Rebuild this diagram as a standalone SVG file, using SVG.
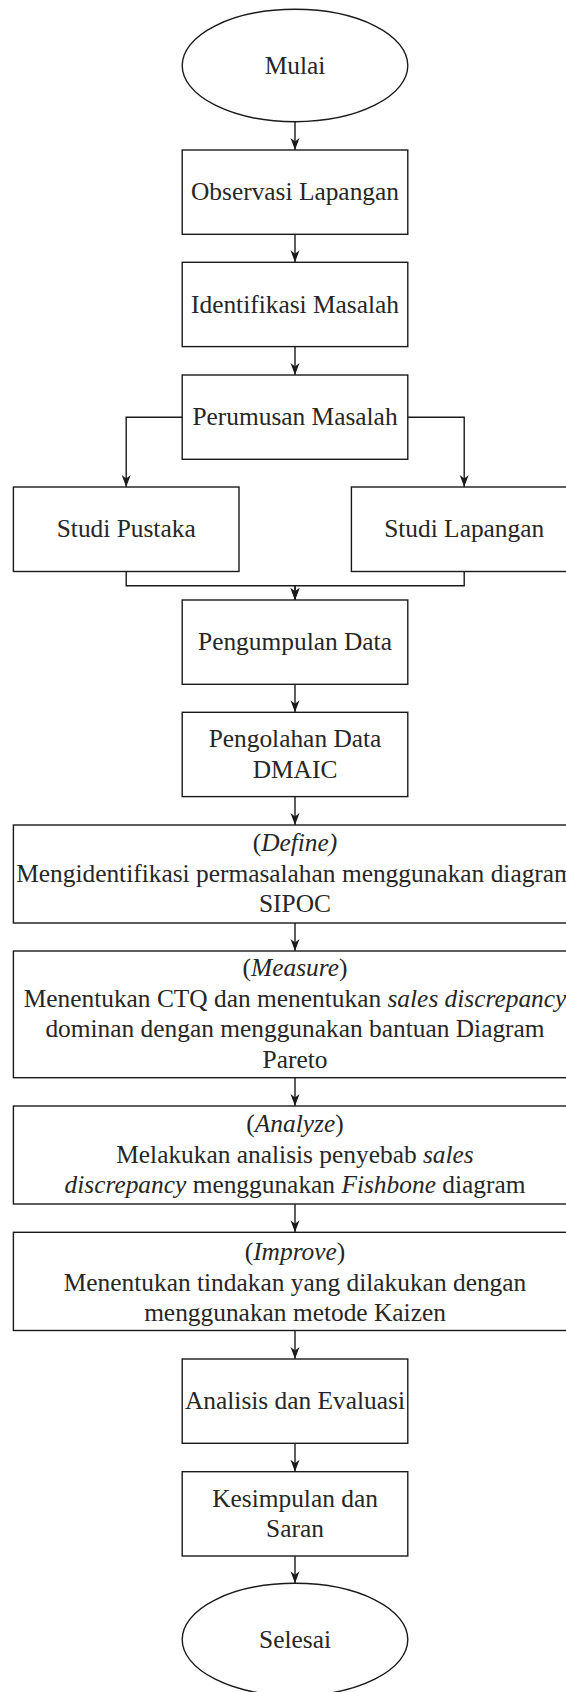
<svg xmlns="http://www.w3.org/2000/svg" width="566" height="1692" viewBox="0 0 566 1692">
  <style>
    .shape { fill: #ffffff; stroke: #1a1a1a; stroke-width: 1.4; }
    .edge { fill: none; stroke: #1a1a1a; stroke-width: 1.4; }
    .label { font-family: "Liberation Serif", "Times New Roman", serif; font-size: 25.4px; fill: #262626; text-anchor: middle; }
    .it { font-style: italic; }
  </style>
  <defs>
    <marker id="arrow" viewBox="0 0 12 10" refX="12" refY="5" markerWidth="12" markerHeight="10" markerUnits="userSpaceOnUse" orient="auto">
      <path d="M0,0.5 L12,5 L0,9.5 L3.5,5 Z" fill="#1a1a1a"/>
    </marker>
  </defs>
  <rect width="566" height="1692" fill="#ffffff"/>

  <!-- connectors -->
  <g id="connectors" class="edge" marker-end="url(#arrow)">
    <path d="M295,121.7 V150"/>
    <path d="M295,234.3 V262.3"/>
    <path d="M295,346.6 V375"/>
    <path d="M182.2,417.2 H126.2 V487"/>
    <path d="M407.8,417.2 H464.2 V487"/>
    <path d="M126.2,571.5 V585.7 H295 V600"/>
    <path d="M464.2,571.5 V585.7 H295 V600"/>
    <path d="M295,684.3 V712.3"/>
    <path d="M295,796.6 V825"/>
    <path d="M295,923 V951"/>
    <path d="M295,1077.7 V1106"/>
    <path d="M295,1204 V1232.3"/>
    <path d="M295,1330.5 V1359"/>
    <path d="M295,1443.3 V1471.7"/>
    <path d="M295,1556 V1583.3"/>
  </g>

  <!-- nodes -->
  <g id="mulai">
    <ellipse class="shape" cx="295" cy="65.5" rx="112.8" ry="56.2"/>
    <text class="label" x="295" y="73.5">Mulai</text>
  </g>
  <g id="observasi">
    <rect class="shape" x="182.2" y="150" width="225.6" height="84.3"/>
    <text class="label" x="295" y="200.2">Observasi Lapangan</text>
  </g>
  <g id="identifikasi">
    <rect class="shape" x="182.2" y="262.3" width="225.6" height="84.3"/>
    <text class="label" x="295" y="312.5">Identifikasi Masalah</text>
  </g>
  <g id="perumusan">
    <rect class="shape" x="182.2" y="375" width="225.6" height="84.3"/>
    <text class="label" x="295" y="425.2">Perumusan Masalah</text>
  </g>
  <g id="studi-pustaka">
    <rect class="shape" x="13.4" y="487" width="225.6" height="84.5"/>
    <text class="label" x="126.2" y="537.3">Studi Pustaka</text>
  </g>
  <g id="studi-lapangan">
    <rect class="shape" x="351.4" y="487" width="225.6" height="84.5"/>
    <text class="label" x="464.2" y="537.3">Studi Lapangan</text>
  </g>
  <g id="pengumpulan">
    <rect class="shape" x="182.2" y="600" width="225.6" height="84.3"/>
    <text class="label" x="295" y="650.2">Pengumpulan Data</text>
  </g>
  <g id="pengolahan">
    <rect class="shape" x="182.2" y="712.3" width="225.6" height="84.3"/>
    <text class="label" x="295" y="747.2">Pengolahan Data</text>
    <text class="label" x="295" y="777.7">DMAIC</text>
  </g>
  <g id="define">
    <rect class="shape" x="13.4" y="825" width="563.2" height="98"/>
    <text class="label" x="295" y="851.3">(<tspan class="it">Define)</tspan></text>
    <text class="label" x="295" y="881.8">Mengidentifikasi permasalahan menggunakan diagram</text>
    <text class="label" x="295" y="912.3">SIPOC</text>
  </g>
  <g id="measure">
    <rect class="shape" x="13.4" y="951" width="563.2" height="126.7"/>
    <text class="label" x="295" y="976.4">(<tspan class="it">Measure</tspan>)</text>
    <text class="label" x="295" y="1006.9">Menentukan CTQ dan menentukan <tspan class="it">sales discrepancy</tspan></text>
    <text class="label" x="295" y="1037.4">dominan dengan menggunakan bantuan Diagram</text>
    <text class="label" x="295" y="1067.9">Pareto</text>
  </g>
  <g id="analyze">
    <rect class="shape" x="13.4" y="1106" width="563.2" height="98"/>
    <text class="label" x="295" y="1132.3">(<tspan class="it">Analyze</tspan>)</text>
    <text class="label" x="295" y="1162.8">Melakukan analisis penyebab <tspan class="it">sales</tspan></text>
    <text class="label" x="295" y="1193.3"><tspan class="it">discrepancy</tspan> menggunakan <tspan class="it">Fishbone</tspan> diagram</text>
  </g>
  <g id="improve">
    <rect class="shape" x="13.4" y="1232.3" width="563.2" height="98.2"/>
    <text class="label" x="295" y="1260.2">(<tspan class="it">Improve</tspan>)</text>
    <text class="label" x="295" y="1290.7">Menentukan tindakan yang dilakukan dengan</text>
    <text class="label" x="295" y="1321.2">menggunakan metode Kaizen</text>
  </g>
  <g id="analisis-evaluasi">
    <rect class="shape" x="182.2" y="1359" width="225.6" height="84.3"/>
    <text class="label" x="295" y="1409.2">Analisis dan Evaluasi</text>
  </g>
  <g id="kesimpulan">
    <rect class="shape" x="182.2" y="1471.7" width="225.6" height="84.3"/>
    <text class="label" x="295" y="1506.6">Kesimpulan dan</text>
    <text class="label" x="295" y="1537.1">Saran</text>
  </g>
  <g id="selesai">
    <ellipse class="shape" cx="295" cy="1639.5" rx="112.8" ry="56.2"/>
    <text class="label" x="295" y="1647.5">Selesai</text>
  </g>
</svg>
